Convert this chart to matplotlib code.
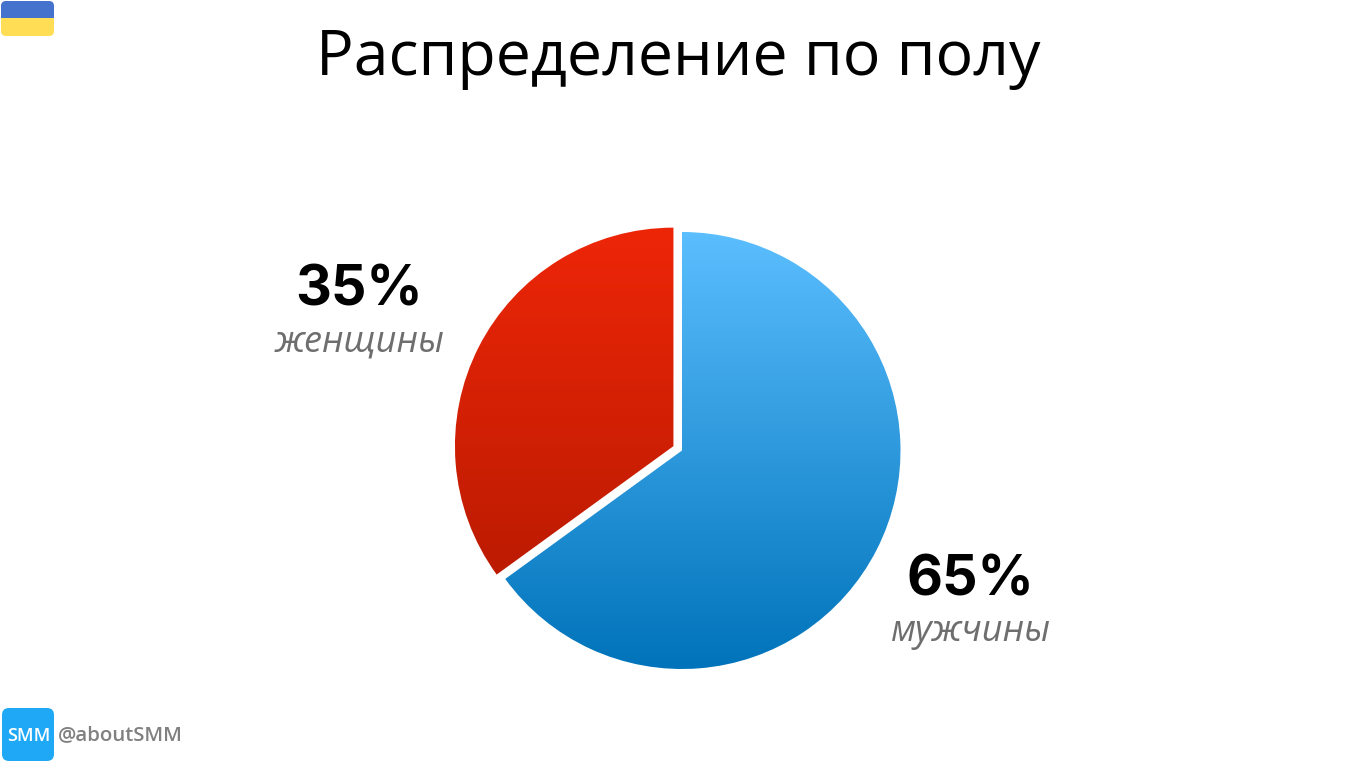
import matplotlib.pyplot as plt
import numpy as np
from matplotlib.colors import LinearSegmentedColormap
from matplotlib.patches import FancyBboxPatch, Rectangle

# Dados do gráfico
titulo = "Распределение по полу"
categorias = ["мужчины", "женщины"]
valores = [65, 35]
rotulos = ["65%", "35%"]
rodape = "@aboutSMM"

W, H = 1356, 762


def py(y):
    # coordenada vertical da imagem (de cima para baixo)
    return H - y


fig = plt.figure(figsize=(W / 100, H / 100), dpi=100, facecolor="white")
ax = fig.add_axes([0, 0, 1, 1])

# Pizza com a fatia vermelha deslocada
fatias, _ = ax.pie(
    valores,
    center=(682, py(450.5)),
    radius=218.5,
    startangle=90,
    counterclock=False,
    explode=[0, 9.6],
    frame=True,
)

# Gradiente vertical dentro de cada fatia
gradientes = [("#0073BA", "#5CBFFF"), ("#AE1800", "#EE2608")]
for fatia, cores in zip(fatias, gradientes):
    cmap = LinearSegmentedColormap.from_list("g", cores)
    img = ax.imshow(
        np.linspace(0, 1, 256).reshape(-1, 1),
        cmap=cmap,
        origin="lower",
        extent=(440, 915, py(670), py(227)),
        aspect="auto",
        zorder=2,
    )
    fatia.set_facecolor("none")
    fatia.set_edgecolor("none")
    img.set_clip_path(fatia)

ax.set_xlim(0, W)
ax.set_ylim(0, H)
ax.set_aspect("equal")
ax.axis("off")

# Título
ax.text(678, py(58.5), titulo, ha="center", va="center", fontsize=45.1,
        family="Open Sans", color="black")

# Rótulos
ax.text(359.5, py(290), rotulos[1], ha="center", va="center", fontsize=40,
        family="Inter", fontweight="bold", color="black")
ax.text(360, py(342), categorias[1], ha="center", va="center", fontsize=26,
        family="Open Sans", style="italic", color="#6E6E6E")
ax.text(970.5, py(580), rotulos[0], ha="center", va="center", fontsize=40,
        family="Inter", fontweight="bold", color="black")
ax.text(970.5, py(632), categorias[0], ha="center", va="center", fontsize=26,
        family="Open Sans", style="italic", color="#6E6E6E")

# Bandeira
flag = FancyBboxPatch((6, py(31)), 43, 25, boxstyle="round,pad=5",
                      facecolor="none", edgecolor="none")
ax.add_patch(flag)
topo = Rectangle((1, py(18)), 53, 18, facecolor="#4472CC", edgecolor="none", zorder=3)
base = Rectangle((1, py(36)), 53, 18, facecolor="#FFDD55", edgecolor="none", zorder=3)
ax.add_patch(topo)
ax.add_patch(base)
topo.set_clip_path(flag)
base.set_clip_path(flag)

# Logo e rodapé
logo = FancyBboxPatch((9, py(754)), 38, 39, boxstyle="round,pad=7",
                      facecolor="#1FA8F5", edgecolor="none", zorder=3)
ax.add_patch(logo)
ax.text(28.5, py(736), "SMM", ha="center", va="center", fontsize=13,
        family="Open Sans", fontweight="semibold", color="white", zorder=4)
ax.text(58, py(735), rodape, ha="left", va="center", fontsize=14.7,
        family="Open Sans", fontweight="semibold", color="#808080")

fig.savefig("out.png", dpi=100, facecolor="white")
